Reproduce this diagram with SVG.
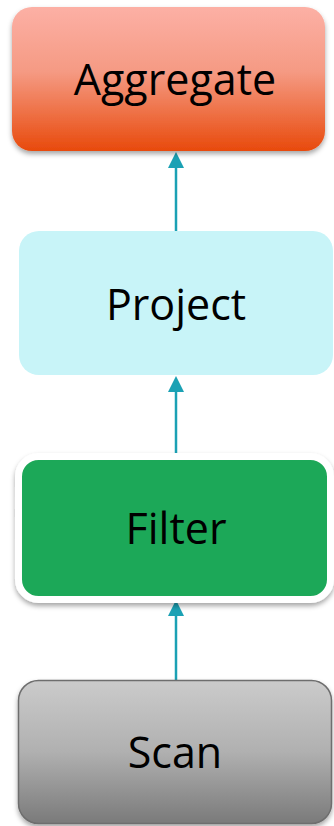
<svg xmlns="http://www.w3.org/2000/svg" width="334" height="826" viewBox="0 0 334 826">
<style>
.lbl{font-family:"Open Sans","Liberation Sans",sans-serif;font-size:43px;fill:#000;text-anchor:middle}
.conn{stroke:#1ba1b4;stroke-width:2.5;fill:none}
.head{fill:#1ba1b4}
</style>
<defs>
<linearGradient id="gAgg" x1="0" y1="0" x2="0" y2="1">
<stop offset="0" stop-color="#fcb0a5"/>
<stop offset="0.45" stop-color="#f59a83"/>
<stop offset="1" stop-color="#e84a0c"/>
</linearGradient>
<linearGradient id="gScan" x1="0" y1="0" x2="0" y2="1">
<stop offset="0" stop-color="#cbcbcb"/>
<stop offset="0.5" stop-color="#b0b0b0"/>
<stop offset="1" stop-color="#7a7a7a"/>
</linearGradient>
<filter id="sh" x="-10%" y="-10%" width="120%" height="130%">
<feDropShadow dx="0" dy="3" stdDeviation="2.5" flood-color="#000" flood-opacity="0.35"/>
</filter>
</defs>
<g id="connectors">
<line class="conn" x1="176" y1="231" x2="176" y2="168"/>
<path class="head" d="M168,168 L176,152 L184,168 z"/>
<line class="conn" x1="176" y1="454" x2="176" y2="392"/>
<path class="head" d="M168,392 L176,376 L184,392 z"/>
<line class="conn" x1="176" y1="680" x2="176" y2="616"/>
<path class="head" d="M168,616 L176,600 L184,616 z"/>
</g>
<g id="aggregate">
<rect x="12" y="7" width="313" height="144" rx="20" fill="url(#gAgg)" filter="url(#sh)"/>
<text class="lbl" x="175" y="95">Aggregate</text>
</g>
<g id="project">
<rect x="19" y="231" width="314" height="144" rx="20" fill="#c8f4f8"/>
<text class="lbl" x="176" y="320">Project</text>
</g>
<g id="filter">
<rect x="18.5" y="456.5" width="312" height="143" rx="20" fill="#1da858" stroke="#ffffff" stroke-width="7" filter="url(#sh)"/>
<text class="lbl" x="176" y="544">Filter</text>
</g>
<g id="scan">
<rect x="18.5" y="680.5" width="313" height="143" rx="20" fill="url(#gScan)" stroke="#6e6e6e" stroke-width="1.5" filter="url(#sh)"/>
<text class="lbl" x="175" y="768">Scan</text>
</g>
</svg>
